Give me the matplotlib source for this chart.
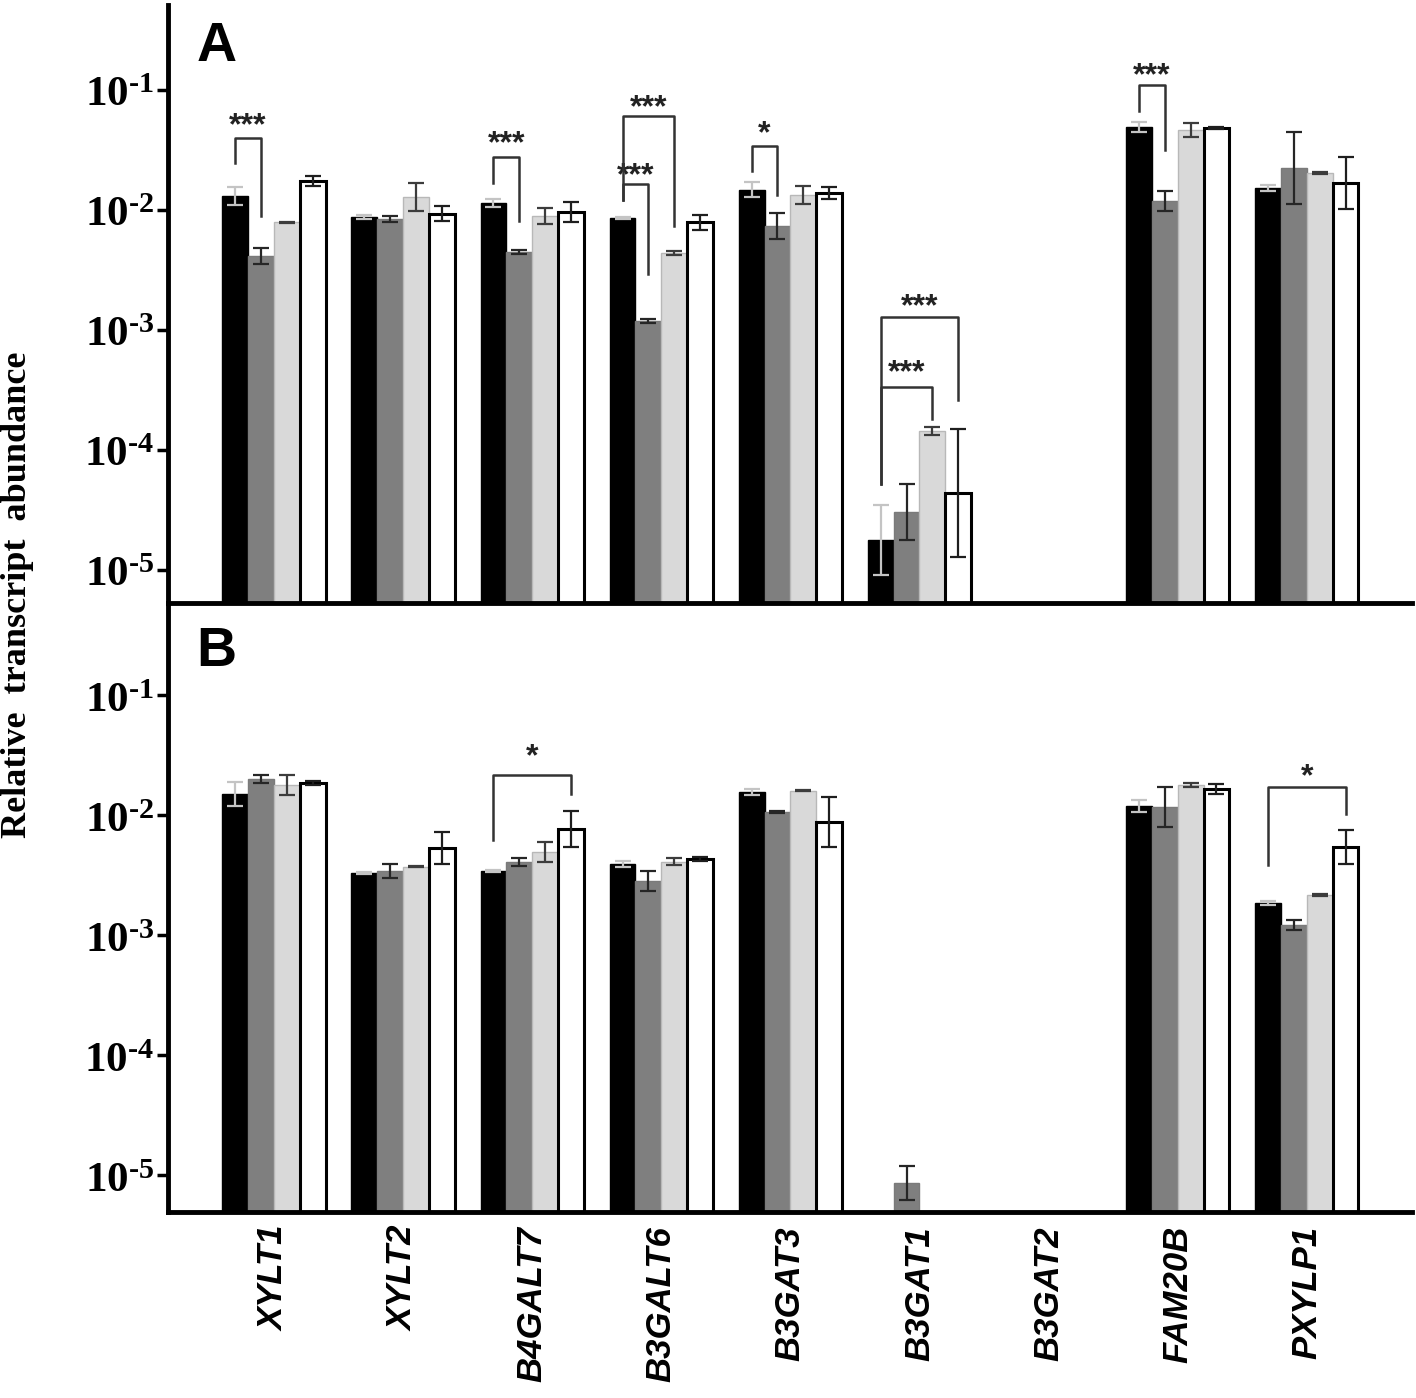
import numpy as np
import matplotlib
matplotlib.use("Agg")
import matplotlib.pyplot as plt

plt.rcParams['mathtext.fontset'] = 'custom'
plt.rcParams['mathtext.rm'] = 'Liberation Serif:bold'
plt.rcParams['mathtext.it'] = 'Liberation Serif:bold:italic'
plt.rcParams['mathtext.bf'] = 'Liberation Serif:bold'

nan = np.nan
genes = ['XYLT1', 'XYLT2', 'B4GALT7', 'B3GALT6', 'B3GAT3', 'B3GAT1', 'B3GAT2', 'FAM20B', 'PXYLP1']
ytick_vals = [1e-5, 1e-4, 1e-3, 1e-2, 1e-1]
ytick_labels = [r'$10^{\text{-}5}$', r'$10^{\text{-}4}$', r'$10^{\text{-}3}$',
                r'$10^{\text{-}2}$', r'$10^{\text{-}1}$']

# panel A: rows = black, dark gray, light gray, white series
vals_a = [
    [0.0131, 0.00875, 0.0114, 0.00858, 0.0147, 1.78e-5, nan, 0.0492, 0.0153],
    [0.00414, 0.0084, 0.00447, 0.00119, 0.00736, 3.04e-5, nan, 0.0119, 0.0224],
    [0.0079, 0.0128, 0.0089, 0.00438, 0.0133, 1.44e-4, nan, 0.0464, 0.0203],
    [0.01745, 0.0093, 0.0096, 0.0079, 0.0139, 4.4e-5, nan, 0.0483, 0.0168],
]
# error half-lengths in decades (log10 units)
err_a = [
    [0.075, 0.017, 0.033, 0.01, 0.063, 0.29, nan, 0.04, 0.025],
    [0.067, 0.025, 0.017, 0.017, 0.108, 0.233, nan, 0.083, 0.3],
    [0.004, 0.117, 0.067, 0.017, 0.075, 0.033, nan, 0.058, 0.008],
    [0.042, 0.063, 0.083, 0.063, 0.05, 0.533, nan, 0.008, 0.217],
]

# panel B
vals_b = [
    [0.01496, 0.00329, 0.0034, 0.0039, 0.01556, nan, nan, 0.0119, 0.00185],
    [0.0198, 0.0034, 0.00406, 0.0028, 0.0106, 8.57e-6, nan, 0.0116, 0.00121],
    [0.0178, 0.0037, 0.0049, 0.0041, 0.016, nan, nan, 0.0178, 0.00216],
    [0.0185, 0.0053, 0.0077, 0.00434, 0.00875, nan, nan, 0.0165, 0.0054],
]
err_b = [
    [0.1, 0.01, 0.01, 0.025, 0.025, nan, nan, 0.05, 0.017],
    [0.033, 0.058, 0.033, 0.083, 0.01, 0.142, nan, 0.167, 0.042],
    [0.083, 0.005, 0.083, 0.033, 0.005, nan, nan, 0.017, 0.005],
    [0.017, 0.133, 0.15, 0.017, 0.208, nan, nan, 0.042, 0.142],
]

# significance brackets: (gene, bar_i, bar_j, top, left_end, right_end, text_y, label), y in log10
sig_a = [
    (0, 0, 1, -1.40, -1.608, -2.05, -1.242, '***'),
    (2, 0, 1, -1.558, -1.775, -2.092, -1.392, '***'),
    (3, 0, 1, -1.783, -1.917, -2.533, -1.658, '***'),
    (3, 0, 2, -1.217, -1.917, -2.133, -1.092, '***'),
    (4, 0, 1, -1.467, -1.675, -1.875, -1.308, '*'),
    (5, 0, 2, -3.475, -4.283, -3.742, -3.30, '***'),
    (5, 0, 3, -2.892, -4.283, -3.583, -2.75, '***'),
    (7, 0, 1, -0.958, -1.175, -1.50, -0.825, '***'),
]
sig_b = [
    (2, 0, 3, -1.667, -2.208, -1.825, -1.458, '*'),
    (8, 0, 3, -1.767, -2.417, -1.992, -1.625, '*'),
]

face = ['#000000', '#7f7f7f', '#d9d9d9', '#ffffff']
edge = ['#000000', '#7a7a7a', '#b8b8b8', '#000000']
ewidth = [1.0, 1.0, 1.0, 2.2]
ecolor = ['#c4c4c4', '#262626', '#3c3c3c', '#1e1e1e']
width = 0.2
offsets = [-0.3, -0.1, 0.1, 0.3]

fig = plt.figure(figsize=(14.16, 13.98), dpi=100)
ax_b = fig.add_axes([0.1186, 0.1330, 0.8786, 0.4357])
ax_a = fig.add_axes([0.1186, 0.5687, 0.8786, 0.4277])
ax_a.patch.set_visible(False)
ax_b.patch.set_visible(False)

x = np.arange(len(genes))


def draw_panel(ax, vals, errs, sigs, ylog, letter):
    ax.set_yscale('log')
    for k in range(4):
        v = np.array(vals[k])
        d = np.array(errs[k])
        ok = ~np.isnan(v)
        ax.bar(x[ok] + offsets[k], v[ok], width, bottom=1e-8, color=face[k],
               edgecolor=edge[k], linewidth=ewidth[k], zorder=2)
        lo = v[ok] - v[ok] * 10 ** (-d[ok])
        hi = v[ok] * 10 ** d[ok] - v[ok]
        ax.errorbar(x[ok] + offsets[k], v[ok], yerr=[lo, hi], fmt='none',
                    ecolor=ecolor[k], elinewidth=1.6, capsize=6, capthick=1.6, zorder=3)
    for g, i, j, top, le, re, ty, lab in sigs:
        xl = g + offsets[i]
        xr = g + offsets[j]
        ax.plot([xl, xl, xr, xr], [10 ** le, 10 ** top, 10 ** top, 10 ** re],
                color='#333333', lw=1.8, zorder=4)
        ax.annotate(lab, ((xl + xr) / 2, 10 ** ty), xytext=(0, -5), textcoords='offset points',
                    ha='center', va='center', fontsize=23, fontweight='bold',
                    family='Liberation Sans', color='#222222')
    ax.set_xlim(-0.821, 8.815)
    ax.set_ylim(10 ** ylog[0], 10 ** ylog[1])
    ax.set_yticks(ytick_vals)
    ax.set_yticklabels(ytick_labels, fontsize=31)
    ax.yaxis.set_minor_locator(matplotlib.ticker.NullLocator())
    ax.tick_params(axis='y', direction='out', length=8, width=2.5, pad=2)
    for s in ['top', 'right']:
        ax.spines[s].set_visible(False)
    for s in ['left', 'bottom']:
        ax.spines[s].set_linewidth(3.5)
        ax.spines[s].set_capstyle('projecting')
    ax.text(0.039, 0.93 if letter == 'A' else 0.92, letter, transform=ax.transAxes,
            ha='center', va='center', fontsize=40, fontweight='bold', family='Liberation Sans')


draw_panel(ax_a, vals_a, err_a, sig_a, (-5.275, -0.292), 'A')
draw_panel(ax_b, vals_b, err_b, sig_b, (-5.308, -0.233), 'B')

ax_a.set_xticks([])
ax_b.set_xticks(x)
ax_b.set_xticklabels(genes, rotation=90, fontsize=25, fontweight='bold',
                     fontstyle='italic', family='Liberation Sans', va='top')
ax_b.tick_params(axis='x', length=0, pad=10)

fig.text(0.0127, 0.5744, 'Relative  transcript  abundance', rotation=90,
         ha='center', va='center', fontsize=26, fontweight='bold', family='Liberation Serif')

fig.savefig('out.png', dpi=100)
